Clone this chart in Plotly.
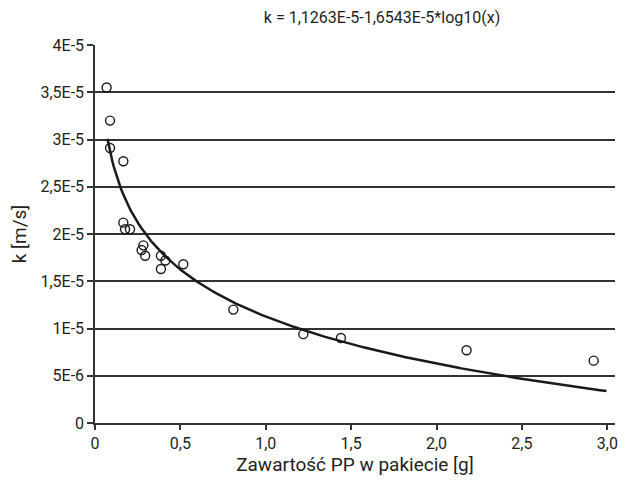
import numpy as np
import plotly.graph_objects as go

# measured points
pp_g = [0.068, 0.088, 0.088, 0.166, 0.166, 0.176, 0.205, 0.283, 0.273, 0.294,
        0.386, 0.412, 0.386, 0.517, 0.810, 1.22, 1.44, 2.176, 2.92]
k_ms = [3.55e-5, 3.20e-5, 2.91e-5, 2.77e-5, 2.12e-5, 2.05e-5, 2.05e-5, 1.88e-5, 1.83e-5, 1.77e-5,
        1.77e-5, 1.72e-5, 1.63e-5, 1.68e-5, 1.20e-5, 9.4e-6, 9.0e-6, 7.7e-6, 6.6e-6]

# fit given in the chart title: k = a - b*log10(x)
fit_a = 1.1263e-5
fit_b = 1.6543e-5
fit_x_start = 0.073
fit_x_end = 2.995

x_tickvals = [0, 0.5, 1.0, 1.5, 2.0, 2.5, 3.0]
x_ticktext = ["0", "0,5", "1,0", "1,5", "2,0", "2,5", "3,0"]
y_tickvals = [0, 5e-6, 1e-5, 1.5e-5, 2e-5, 2.5e-5, 3e-5, 3.5e-5, 4e-5]
y_ticktext = ["0", "5E-6", "1E-5", "1,5E-5", "2E-5", "2,5E-5", "3E-5", "3,5E-5", "4E-5"]

title_text = "k = 1,1263E-5-1,6543E-5*log10(x)"
x_title = "Zawartość PP w pakiecie [g]"
y_title = "k [m/s]"

xf = np.linspace(fit_x_start, fit_x_end, 300)
yf = fit_a - fit_b * np.log10(xf)

FONT = "Roboto, sans-serif"
FS = 16

fig = go.Figure()
fig.add_trace(go.Scatter(x=xf, y=yf, mode="lines",
                         line=dict(color="#1a1a1a", width=2.5), hoverinfo="skip"))
fig.add_trace(go.Scatter(x=pp_g, y=k_ms, mode="markers",
                         marker=dict(symbol="circle-open", size=9,
                                     color="#1a1a1a", line=dict(width=1.4))))

# page body has an 8px margin, so the figure is sized to fit 626x490 window
fig.update_layout(
    width=618, height=482,
    margin=dict(l=87, r=11, t=37, b=67),
    paper_bgcolor="white", plot_bgcolor="white",
    showlegend=False,
    font=dict(family=FONT, size=FS, color="#231f20"),
    title=dict(text=title_text, x=0.552, xref="paper", xanchor="center",
               y=0.981, yref="container", yanchor="middle",
               font=dict(family=FONT, size=FS, color="#231f20")),
    xaxis=dict(range=[0, 3.045], tickvals=x_tickvals, ticktext=x_ticktext,
               showgrid=False, zeroline=False, showline=True, automargin=False,
               linecolor="#333333", linewidth=1.5,
               ticks="outside", ticklen=5, tickcolor="#333333", tickwidth=1.5,
               title=dict(text=x_title, standoff=2),
               tickfont=dict(size=FS)),
    yaxis=dict(range=[0, 4e-5], tickvals=y_tickvals, ticktext=y_ticktext,
               showgrid=True, gridcolor="#333333", gridwidth=1.5,
               zeroline=False, showline=True, automargin=False,
               linecolor="#333333", linewidth=1.5,
               ticks="outside", ticklen=6, tickcolor="#333333", tickwidth=1.5,
               title=dict(text=y_title, standoff=12),
               tickfont=dict(size=FS)),
)

fig.write_html("out.html")
